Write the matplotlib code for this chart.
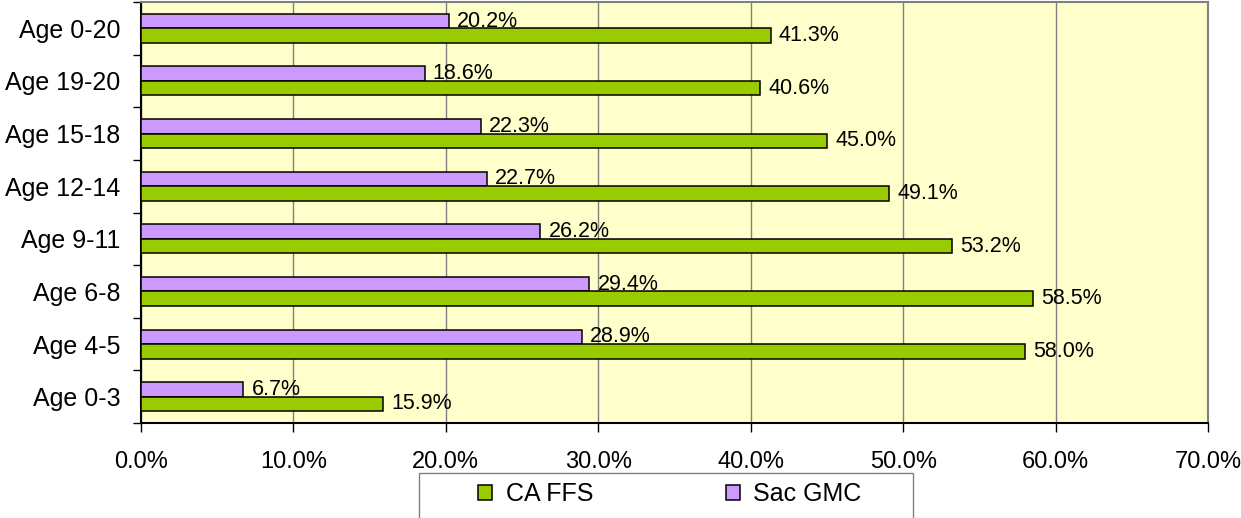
import matplotlib
matplotlib.use('Agg')
import matplotlib.pyplot as plt
from matplotlib.patches import Rectangle
import numpy as np

plt.rcParams['font.family'] = ['Liberation Sans', 'DejaVu Sans']

# данные (сверху вниз)
categories = ['Age 0-20', 'Age 19-20', 'Age 15-18', 'Age 12-14',
              'Age 9-11', 'Age 6-8', 'Age 4-5', 'Age 0-3']
sac_gmc = [20.2, 18.6, 22.3, 22.7, 26.2, 29.4, 28.9, 6.7]
ca_ffs = [41.3, 40.6, 45.0, 49.1, 53.2, 58.5, 58.0, 15.9]
x_ticks = [0, 10, 20, 30, 40, 50, 60, 70]
x_tick_labels = ['0.0%', '10.0%', '20.0%', '30.0%', '40.0%', '50.0%', '60.0%', '70.0%']

W, H = 1241, 518
fig = plt.figure(figsize=(W / 100, H / 100), dpi=100)
ax = fig.add_axes([141 / W, 1 - 423 / H, (1208 - 141) / W, (423 - 2) / H])
ax.set_facecolor('#FFFFCC')

y = np.arange(len(categories))
h = 0.276
bars_sac = ax.barh(y - h / 2, sac_gmc, height=h, color='#CC99FF',
                   edgecolor='black', linewidth=1.1, zorder=3, label='Sac GMC')
bars_ca = ax.barh(y + h / 2, ca_ffs, height=h, color='#99CC00',
                  edgecolor='black', linewidth=1.1, zorder=3, label='CA FFS')

ax.bar_label(bars_sac, fmt='%.1f%%', padding=6, fontsize=15.5, zorder=4)
ax.bar_label(bars_ca, fmt='%.1f%%', padding=6, fontsize=15.5, zorder=4)

ax.set_xlim(0, 70)
ax.set_ylim(len(categories) - 0.5, -0.5)

ax.set_xticks(x_ticks)
ax.set_xticklabels(x_tick_labels, fontsize=17)
ax.tick_params(axis='x', direction='out', length=6.5, width=1.0, pad=14)

# подписи категорий по центру, засечки на границах
ax.set_yticks(y)
ax.set_yticklabels(categories, fontsize=18)
ax.tick_params(axis='y', which='major', length=0, pad=15)
ax.set_yticks(np.arange(len(categories) + 1) - 0.5, minor=True)
ax.tick_params(axis='y', which='minor', direction='out', length=6, width=1.0)

ax.grid(axis='x', color='#808080', linewidth=1.0, zorder=1)
ax.set_axisbelow(True)

for side in ['left', 'bottom']:
    ax.spines[side].set_color('black')
    ax.spines[side].set_linewidth(1.5)
for side in ['top', 'right']:
    ax.spines[side].set_color('#808080')
    ax.spines[side].set_linewidth(1.5)

# рамка легенды (обрезана снизу)
fig.patches.append(Rectangle((419 / W, -0.1), (913 - 419) / W, 0.1 + 1 - 473 / H,
                             transform=fig.transFigure, facecolor='white',
                             edgecolor='#808080', linewidth=1.0))
fig.legend(handles=[bars_ca, bars_sac], labels=['CA FFS', 'Sac GMC'],
           loc='center', bbox_to_anchor=(670 / W, 1 - 494 / H), ncol=2,
           frameon=False, fontsize=18, handlelength=0.55, handleheight=0.55,
           handletextpad=0.55, columnspacing=5.3, borderpad=0)

fig.savefig('out.png', dpi=100)
